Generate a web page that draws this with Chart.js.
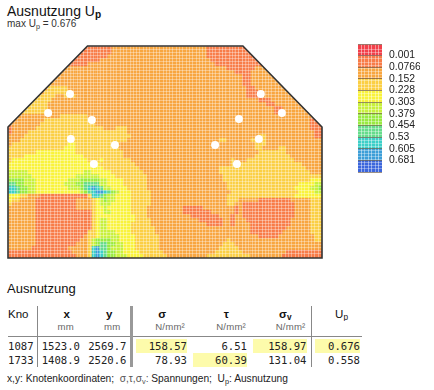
<!DOCTYPE html>
<html lang="de">
<head>
  <meta charset="utf-8">
  <title>Ausnutzung Up</title>
  <script src="https://cdn.jsdelivr.net/npm/chart.js@4/dist/chart.umd.js"></script>
  <style>
    html, body { margin: 0; padding: 0; background: #fff; width: 434px; height: 390px; overflow: hidden; }
    body { font-family: "Liberation Sans", sans-serif; color: #111; position: relative; }
    canvas { position: absolute; }
    .txt { position: absolute; white-space: nowrap; }
    sub { font-size: 72%; vertical-align: -2px; line-height: 0; }
    table { position: absolute; left: 8px; top: 306px; border-collapse: collapse; table-layout: fixed; width: 354px; font-size: 11.5px; }
    th, td { padding: 0; text-align: right; font-weight: normal; overflow: hidden; box-sizing: border-box; }
    thead td { height: 15px; vertical-align: middle; }
    .sym { font-weight: bold; font-size: 11.5px; }
    .unit { color: #666; font-size: 9.6px; letter-spacing: .2px; vertical-align: top !important; }
    tbody td { height: 14px; font-family: "DejaVu Sans Mono", monospace; font-size: 10.6px; color: #222; line-height: 14px; }
    tbody tr:first-child td { height: 16px; padding-top: 2px; }
    .rule td { border-bottom: 1px solid #888; }
    .c0 { border-right: 1px solid #888; }
    .c2 { border-right: 3px solid #999; }
    .c5 { border-right: 1px solid #888; }
    .hl { background: #fdfbab; margin-left: 3px; }
  </style>
</head>

<body>
  <div class="txt" style="left:7px;top:3px;font-size:14px">Ausnutzung U<sub><b>p</b></sub></div>
  <div class="txt" style="left:7px;top:18px;font-size:10px;color:#333">max U<sub>p</sub> = 0.676</div>

  <canvas id="plate" width="340" height="225" style="left:0;top:40px"></canvas>
  <canvas id="scale" width="84" height="145" style="left:350px;top:36px"></canvas>

  <div class="txt" style="left:7px;top:281px;font-size:13px">Ausnutzung</div>
  <table id="results">
    <colgroup>
      <col style="width:29px"><col style="width:46px"><col style="width:48px">
      <col style="width:59px"><col style="width:60px"><col style="width:61px"><col style="width:51px">
    </colgroup>
    <thead></thead>
    <tbody></tbody>
  </table>
  <div class="txt" style="left:7px;top:373px;font-size:10.2px;color:#222">x,y: Knotenkoordinaten;&nbsp; <span style="color:#555">σ,τ,σ<sub>v</sub>:</span> Spannungen;&nbsp; U<sub>p</sub>: Ausnutzung</div>

  <script>
    // legend
    let levels = ['0.001', '0.0766', '0.152', '0.228', '0.303', '0.379', '0.454', '0.53', '0.605', '0.681'];
    let bandColors = ['#f2404a', '#f87c48', '#f8a640', '#fbcf44', '#f9f33c', '#c8f03c', '#98ea40',
      '#66dc8c', '#3ccfc8', '#3c9ed8', '#3c66dc'];

    // results table
    let columns = ['Kno', 'x', 'y', 'σ', 'τ', 'σv', 'Up'];
    let units = ['', 'mm', 'mm', 'N/mm²', 'N/mm²', 'N/mm²', ''];
    let nodes = ['1087', '1733'];
    let nodeX = ['1523.0', '1408.9'];
    let nodeY = ['2569.7', '2520.6'];
    let sigma = ['158.57', '78.93'];
    let tau = ['6.51', '60.39'];
    let sigmaV = ['158.97', '131.04'];
    let usage = ['0.676', '0.558'];
    let highlighted = ['0-3', '1-4', '0-5', '0-6'];

    // plate contour, one row per line, band:cells
    let gridCols = 79;
    let bandRows = [
      '1:26 2:24 1:29',
      '1:26 2:24 1:29',
      '1:25 2:25 1:29',
      '1:23 2:28 1:28',
      '1:20 2:32 1:27',
      '2:55 1:7 2:17',
      '2:57 1:4 2:18',
      '2:59 1:2 2:18',
      '2:59 1:2 2:18',
      '2:59 1:2 2:18',
      '2:10 3:5 2:45 1:2 2:17',
      '2:9 3:7 2:44 1:3 2:16',
      '3:12 2:2 3:3 2:43 1:4 2:15',
      '3:11 2:52 1:3 2:13',
      '3:10 2:55 1:2 2:12',
      '3:10 2:57 1:2 2:10',
      '3:11 2:56 1:2 2:10',
      '2:13 3:7 2:59',
      '2:9 3:12 2:55 1:3',
      '2:8 3:14 2:54 1:3',
      '1:1 2:6 3:17 2:3 3:3 2:46 1:3',
      '1:1 2:4 3:25 2:47 1:2',
      '2:4 3:27 2:32 3:2 2:12 1:2',
      '2:3 3:27 2:23 3:2 2:6 3:4 2:14',
      '2:1 3:14 4:2 3:11 2:34 3:3 2:14',
      '3:14 4:3 3:11 2:34 3:2 2:4 3:2 2:9',
      '3:7 4:10 3:12 2:34 3:7 2:9',
      '3:4 4:15 3:10 2:33 3:9 2:8',
      '3:1 4:19 3:3 4:1 3:7 2:25 3:1 2:3 3:12 2:7',
      '4:23 3:9 2:24 3:18 2:5',
      '4:24 3:9 2:20 3:22 2:4',
      '5:5 4:14 5:2 4:5 3:8 2:19 3:23 2:3',
      '5:6 4:11 5:6 4:4 3:8 2:19 3:25',
      '6:4 5:3 4:8 5:3 6:5 5:2 4:4 3:6 2:19 3:22 4:3',
      '7:2 6:2 5:3 4:7 5:3 6:2 7:4 5:2 4:4 3:6 2:20 3:18 4:4 5:2',
      '8:2 7:1 6:2 5:2 4:8 5:3 6:1 7:1 8:1 9:1 8:1 7:1 5:2 4:4 3:5 2:20 3:17 4:4 5:2 6:1',
      '8:2 7:1 6:2 5:2 4:11 5:1 6:1 7:1 8:1 9:2 8:1 7:1 6:1 5:1 4:3 3:5 2:20 3:17 4:4 5:2',
      '4:3 3:2 2:3 1:12 3:1 8:2 7:1 6:1 5:2 4:4 3:5 2:19 3:17 4:7',
      '4:1 3:2 2:4 1:10 2:4 3:1 4:1 5:1 6:1 5:2 4:4 3:5 2:19 3:3 2:5 1:8 2:5 3:3',
      '3:1 2:6 1:10 2:4 3:1 4:1 5:3 4:5 3:5 2:19 3:2 2:2 1:13 2:4 3:3',
      '2:7 1:10 2:4 3:1 4:2 5:1 4:6 3:4 2:9 1:5 2:8 1:1 2:1 1:13 2:4 3:3',
      '2:7 1:14 3:1 4:2 5:2 4:5 3:4 2:9 1:7 2:6 1:1 2:1 1:13 2:4 3:3',
      '2:7 1:14 3:1 4:10 3:3 2:11 1:7 2:3 1:1 2:2 1:13 2:4 3:3',
      '2:7 1:14 3:1 4:1 5:2 4:7 3:4 2:12 1:6 2:2 1:1 2:3 1:11 2:5 3:3',
      '2:7 1:14 3:1 4:1 5:2 4:6 3:5 2:14 1:4 2:2 1:1 2:4 1:10 2:5 3:3',
      '2:7 1:14 3:1 4:1 5:2 4:6 3:6 2:24 1:9 2:6 3:3',
      '2:7 1:13 3:2 4:1 5:4 4:4 3:6 2:24 1:8 2:7 3:3',
      '2:7 1:12 2:1 3:2 4:1 5:5 4:4 3:6 2:25 1:5 2:9 3:2',
      '2:7 1:11 2:2 3:1 5:1 6:4 5:2 4:4 3:6 2:17 3:1 2:21 3:2',
      '2:7 1:10 2:3 3:1 5:1 6:1 7:2 6:2 5:2 4:3 3:6 2:16 3:3 2:22',
      '2:6 1:9 2:5 3:1 8:1 9:1 7:2 6:1 5:3 4:3 3:6 2:15 3:5 2:21',
      '1:16 2:4 3:1 8:1 9:1 8:1 7:1 6:2 5:2 4:4 3:6 2:13 3:7 2:11 1:9',
      '1:17 2:3 3:1 8:1 9:1 8:1 7:1 6:2 5:3 4:4 3:6 2:10 3:11 2:8 1:10'
    ];
    let gridRows = bandRows.length;

    // bolts, in grid units
    let boltX = [15.6, 10.1, 21.1, 15.8, 26.9, 21.6, 63.6, 68.9, 58.1, 63.1, 52.1, 57.6];
    let boltY = [12, 16.75, 18.5, 23.25, 24.75, 29.5, 12, 16.75, 18.25, 23.25, 24.75, 29.5];

    // plate outline, in grid units
    let plateX = [20, 59.1, 79, 79, 0, 0, 20];
    let plateY = [0, 0, 20.25, 53, 53, 20.25, 0];

    let meshColor = 'rgba(255,255,255,0.34)';

    function buildCells() {
      let cells = bandColors.map(function() { return []; });
      bandRows.forEach(function(row, r) {
        let c = 0;
        row.split(' ').forEach(function(run) {
          let parts = run.split(':').map(Number);
          for (let i = 0; i < parts[1]; i++) {
            cells[parts[0]].push({x: c + 0.5, y: r + 0.5});
            c++;
          }
        });
      });
      return cells;
    }

    function toPoints(xs, ys) {
      return xs.map(function(x, i) { return {x: x, y: ys[i]}; });
    }

    let cellSets = buildCells().map(function(points, band) {
      return {
        data: points,
        order: 3,
        pointStyle: 'rect',
        pointRadius: 3.05,
        pointBorderWidth: 0,
        pointBackgroundColor: bandColors[band]
      };
    });

    // white corners cut the grid back to the plate shape
    function cornerSet(xs, ys) {
      return {
        data: toPoints(xs, ys),
        order: 2,
        showLine: true,
        fill: 'shape',
        backgroundColor: '#fff',
        borderWidth: 0,
        pointRadius: 0
      };
    }

    let outlinePlugin = {
      id: 'plateOutline',
      afterDraw: function(chart) {
        let ctx = chart.ctx;
        ctx.save();
        ctx.strokeStyle = '#333';
        ctx.lineWidth = 1.6;
        ctx.beginPath();
        plateX.forEach(function(x, i) {
          let px = chart.scales.x.getPixelForValue(x);
          let py = chart.scales.y.getPixelForValue(plateY[i]);
          if (i === 0) ctx.moveTo(px, py); else ctx.lineTo(px, py);
        });
        ctx.closePath();
        ctx.stroke();
        ctx.restore();
      }
    };

    new Chart('plate', {
      type: 'scatter',
      data: {
        datasets: cellSets.concat([
          cornerSet([0, 20, 0], [0, 0, 20.25]),
          cornerSet([59.1, 79, 79], [0, 0, 20.25]),
          {
            data: toPoints(boltX, boltY),
            order: 1,
            pointStyle: 'circle',
            pointRadius: 4,
            pointBorderWidth: 0,
            pointBackgroundColor: '#fff'
          }
        ])
      },
      options: {
        responsive: false,
        animation: false,
        events: [],
        layout: {padding: {left: 8, right: 18, top: 6, bottom: 7}},
        plugins: {legend: {display: false}, tooltip: {enabled: false}},
        scales: {
          x: {
            min: 0, max: gridCols,
            border: {display: false},
            ticks: {display: false, stepSize: 0.83, autoSkip: false, maxTicksLimit: 200},
            grid: {color: meshColor, drawTicks: false, z: 1}
          },
          y: {
            min: 0, max: gridRows, reverse: true,
            border: {display: false},
            ticks: {display: false, stepSize: 0.75, autoSkip: false, maxTicksLimit: 200},
            grid: {color: meshColor, drawTicks: false, z: 1}
          }
        }
      },
      plugins: [outlinePlugin]
    });

    // colour scale, one stacked block per band
    let scaleCols = ['', '', '', '', '', '', ''];
    new Chart('scale', {
      type: 'bar',
      data: {
        labels: scaleCols,
        datasets: bandColors.map(function(color) {
          return {
            data: scaleCols.map(function() { return 1; }),
            backgroundColor: color,
            borderWidth: 0,
            barPercentage: 1.02,
            categoryPercentage: 1
          };
        })
      },
      options: {
        responsive: false,
        animation: false,
        events: [],
        layout: {padding: {left: 8, right: 14, top: 8, bottom: 9}},
        plugins: {legend: {display: false}, tooltip: {enabled: false}},
        scales: {
          x: {
            stacked: true,
            border: {display: false},
            ticks: {display: false},
            grid: {color: meshColor, drawTicks: false, z: 1}
          },
          y: {
            stacked: true,
            position: 'right',
            min: 0, max: bandColors.length, reverse: true,
            afterFit: function(s) { s.width = 38; s.paddingTop = 0; s.paddingBottom = 0; },
            border: {display: false},
            ticks: {
              stepSize: 1,
              autoSkip: false,
              padding: 7,
              color: '#222',
              font: {family: '"Liberation Sans", sans-serif', size: 10.4},
              callback: function(v) { return levels[v - 1] || ''; }
            },
            grid: {color: 'rgba(90,70,50,0.6)', drawTicks: false, z: 2}
          },
          mesh: {
            position: 'left',
            min: 0, max: bandColors.length,
            afterFit: function(s) { s.width = 0; s.paddingTop = 0; s.paddingBottom = 0; },
            border: {display: false},
            ticks: {display: false, stepSize: 0.27, autoSkip: false, maxTicksLimit: 60},
            grid: {color: meshColor, drawTicks: false, z: 1}
          }
        }
      }
    });

    // table
    let head = document.querySelector('#results thead');
    let body = document.querySelector('#results tbody');
    let symPad = [0, 13, 17, 24, 21, 19, 14];
    let unitPad = [0, 9, 9, 5, 4, 5, 0];
    let valuePad = [3, 3, 3, 3, 3, 4, 2];

    let symRow = columns.map(function(name, i) {
      let label = name === 'σv' ? 'σ<sub>v</sub>' : name === 'Up' ? 'U<sub>p</sub>' : name;
      let cls = i === 0 || i === 6 ? '' : 'sym ';
      let style = i === 0 ? 'text-align:left' : 'padding-right:' + symPad[i] + 'px';
      return '<td class="' + cls + 'c' + i + '" style="' + style + '">' + label + '</td>';
    }).join('');
    let unitRow = units.map(function(unit, i) {
      return '<td class="unit c' + i + '" style="padding-right:' + unitPad[i] + 'px">' + unit + '</td>';
    }).join('');
    head.innerHTML = '<tr>' + symRow + '</tr><tr class="rule">' + unitRow + '</tr>';

    body.innerHTML = nodes.map(function(node, r) {
      let values = [node, nodeX[r], nodeY[r], sigma[r], tau[r], sigmaV[r], usage[r]];
      return '<tr>' + values.map(function(value, i) {
        let inner = value;
        if (highlighted.indexOf(r + '-' + i) >= 0) inner = '<div class="hl">' + value + '</div>';
        return '<td class="c' + i + '" style="padding-right:' + valuePad[i] + 'px">' + inner + '</td>';
      }).join('') + '</tr>';
    }).join('');
  </script>
</body>
</html>
